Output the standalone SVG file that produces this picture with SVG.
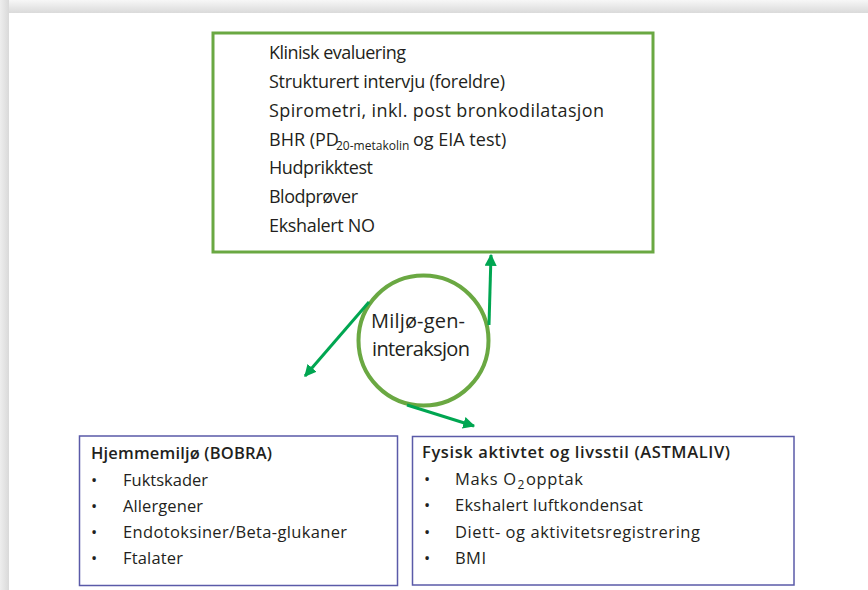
<svg xmlns="http://www.w3.org/2000/svg" width="868" height="590" viewBox="0 0 868 590">
<defs>
<linearGradient id="gTop" x1="0" y1="0" x2="0" y2="1"><stop offset="0" stop-color="#f7f7f7"/><stop offset="1" stop-color="#dadada"/></linearGradient>
<linearGradient id="gLeft" x1="0" y1="0" x2="1" y2="0"><stop offset="0" stop-color="#eeeeee"/><stop offset="1" stop-color="#d9d9d9"/></linearGradient>
<marker id="ah" viewBox="0 0 10 10" refX="9" refY="5" markerWidth="4" markerHeight="4" markerUnits="strokeWidth" orient="auto"><path d="M0,0 L10,5 L0,10 z" fill="#00a651"/></marker>
<style>
.t{font-family:"Open Sans","Noto Sans",sans-serif;font-size:18px;fill:#231f20}
.s{font-family:"Open Sans","Noto Sans",sans-serif;font-size:16.5px;fill:#231f20}
.c{font-family:"Open Sans","Noto Sans",sans-serif;font-size:20px;fill:#231f20}
.b{font-weight:600}
.sub{font-size:12px}
.gbox{fill:#fff;stroke:#6aa842;stroke-width:3}
.bbox{fill:#fff;stroke:#5a5aa8;stroke-width:1.5}
.arr{stroke:#00a651;stroke-width:3;fill:none;marker-end:url(#ah)}
</style>
</defs>
<rect x="0" y="0" width="868" height="590" fill="#fff"/>
<rect x="0" y="0" width="868" height="13" fill="url(#gTop)"/>
<rect x="0" y="0" width="9" height="590" fill="url(#gLeft)"/>
<g id="top-box">
<rect class="gbox" x="213" y="33" width="440" height="219"/>
<text class="t" x="269" y="59" textLength="137" lengthAdjust="spacing">Klinisk evaluering</text>
<text class="t" x="269" y="88" textLength="236" lengthAdjust="spacing">Strukturert intervju (foreldre)</text>
<text class="t" x="269" y="117" textLength="335" lengthAdjust="spacing">Spirometri, inkl. post bronkodilatasjon</text>
<text class="t" x="269" y="146">BHR (PD<tspan class="sub" x="336" dy="4">20-metakolin</tspan><tspan x="413" dy="-4">og EIA test)</tspan></text>
<text class="t" x="269" y="174" textLength="104" lengthAdjust="spacing">Hudprikktest</text>
<text class="t" x="269" y="203" textLength="89" lengthAdjust="spacing">Blodprøver</text>
<text class="t" x="269" y="232" textLength="106" lengthAdjust="spacing">Ekshalert NO</text>
</g>
<g id="circle-node">
<circle cx="423.5" cy="340.5" r="65" fill="#fff" stroke="#6aa842" stroke-width="4"/>
<text class="c" x="371" y="328" textLength="94" lengthAdjust="spacing">Miljø-gen-</text>
<text class="c" x="372" y="356" textLength="98" lengthAdjust="spacing">interaksjon</text>
</g>
<g id="left-box">
<rect class="bbox" x="79.5" y="436" width="318" height="149.5"/>
<text class="s b" x="91" y="459" textLength="181" lengthAdjust="spacing">Hjemmemiljø (BOBRA)</text>
<text class="s" x="91" y="486">•</text><text class="s" x="123" y="486" textLength="85" lengthAdjust="spacing">Fuktskader</text>
<text class="s" x="91" y="512">•</text><text class="s" x="123" y="512" textLength="80" lengthAdjust="spacing">Allergener</text>
<text class="s" x="91" y="538">•</text><text class="s" x="123" y="538" textLength="224" lengthAdjust="spacing">Endotoksiner/Beta-glukaner</text>
<text class="s" x="91" y="564">•</text><text class="s" x="123" y="564" textLength="60" lengthAdjust="spacing">Ftalater</text>
</g>
<g id="right-box">
<rect class="bbox" x="412.5" y="436.5" width="381.5" height="148.5"/>
<text class="s b" x="422" y="458" textLength="308" lengthAdjust="spacing">Fysisk aktivtet og livsstil (ASTMALIV)</text>
<text class="s" x="424" y="485">•</text><text class="s" x="455" y="485" textLength="61" lengthAdjust="spacing">Maks O</text><text class="s sub" x="517.5" y="489">2</text><text class="s" x="526" y="485" textLength="57" lengthAdjust="spacing">opptak</text>
<text class="s" x="424" y="511">•</text><text class="s" x="455" y="511" textLength="188" lengthAdjust="spacing">Ekshalert luftkondensat</text>
<text class="s" x="424" y="538">•</text><text class="s" x="455" y="538" textLength="245" lengthAdjust="spacing">Diett- og aktivitetsregistrering</text>
<text class="s" x="424" y="564">•</text><text class="s" x="455" y="564" textLength="31" lengthAdjust="spacing">BMI</text>
</g>
<g id="connectors">
<line class="arr" x1="489" y1="325" x2="491" y2="255"/>
<line class="arr" x1="369" y1="302" x2="305" y2="376"/>
<line class="arr" x1="407" y1="405" x2="474" y2="426"/>
</g>
</svg>
